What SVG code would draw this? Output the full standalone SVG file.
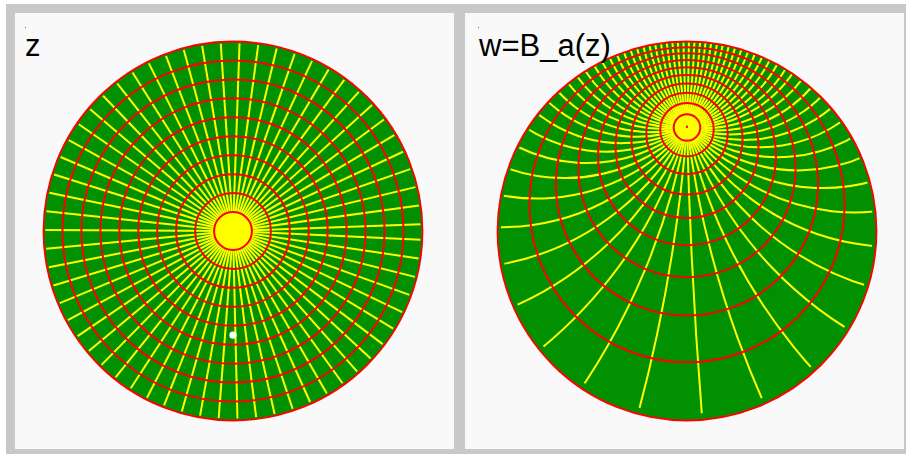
<svg xmlns="http://www.w3.org/2000/svg" width="906" height="454" viewBox="0 0 906 454">
<style>
.panel{fill:#f9f9f9}
.disk{fill:#009000}
.ray{stroke:#ffff00;stroke-width:2;fill:none}
.ring{stroke:#ff0000;stroke-width:2;fill:none}
.lbl{font-family:"Liberation Sans",Arial,sans-serif;font-size:31px;fill:#000}
</style>
<defs>
<clipPath id="clipR"><circle cx="687" cy="228.05" r="186"/></clipPath>
<line id="ray" x1="0" y1="0" x2="187.6" y2="0"/>
</defs>
<rect width="906" height="454" fill="#ffffff"/>
<rect x="6" y="4" width="900" height="450" fill="#c8c8c8"/>
<rect x="15" y="13" width="439" height="436" class="panel"/>
<rect x="465" y="13" width="439" height="436" class="panel"/>
<rect x="25" y="27" width="1" height="1" fill="#009000"/>
<rect x="478" y="27" width="1" height="1" fill="#009000"/>

<g id="left-disk">
<circle cx="233" cy="231" r="189.5" class="disk"/>
<g class="ray" transform="translate(233 231)">
<use href="#ray" transform="rotate(-2.063)"/><use href="#ray" transform="rotate(-7.792)"/><use href="#ray" transform="rotate(-13.522)"/><use href="#ray" transform="rotate(-19.252)"/><use href="#ray" transform="rotate(-24.981)"/><use href="#ray" transform="rotate(-30.711)"/><use href="#ray" transform="rotate(-36.440)"/><use href="#ray" transform="rotate(-42.170)"/><use href="#ray" transform="rotate(-47.899)"/><use href="#ray" transform="rotate(-53.629)"/>
<use href="#ray" transform="rotate(-59.359)"/><use href="#ray" transform="rotate(-65.088)"/><use href="#ray" transform="rotate(-70.818)"/><use href="#ray" transform="rotate(-76.547)"/><use href="#ray" transform="rotate(-82.277)"/><use href="#ray" transform="rotate(-88.006)"/><use href="#ray" transform="rotate(-93.736)"/><use href="#ray" transform="rotate(-99.466)"/><use href="#ray" transform="rotate(-105.195)"/><use href="#ray" transform="rotate(-110.925)"/>
<use href="#ray" transform="rotate(-116.654)"/><use href="#ray" transform="rotate(-122.384)"/><use href="#ray" transform="rotate(-128.113)"/><use href="#ray" transform="rotate(-133.843)"/><use href="#ray" transform="rotate(-139.573)"/><use href="#ray" transform="rotate(-145.302)"/><use href="#ray" transform="rotate(-151.032)"/><use href="#ray" transform="rotate(-156.761)"/><use href="#ray" transform="rotate(-162.491)"/><use href="#ray" transform="rotate(-168.220)"/>
<use href="#ray" transform="rotate(-173.950)"/><use href="#ray" transform="rotate(-179.680)"/><use href="#ray" transform="rotate(-185.409)"/><use href="#ray" transform="rotate(-191.139)"/><use href="#ray" transform="rotate(-196.868)"/><use href="#ray" transform="rotate(-202.598)"/><use href="#ray" transform="rotate(-208.327)"/><use href="#ray" transform="rotate(-214.057)"/><use href="#ray" transform="rotate(-219.787)"/><use href="#ray" transform="rotate(-225.516)"/>
<use href="#ray" transform="rotate(-231.246)"/><use href="#ray" transform="rotate(-236.975)"/><use href="#ray" transform="rotate(-242.705)"/><use href="#ray" transform="rotate(-248.434)"/><use href="#ray" transform="rotate(-254.164)"/><use href="#ray" transform="rotate(-259.894)"/><use href="#ray" transform="rotate(-265.623)"/><use href="#ray" transform="rotate(-271.353)"/><use href="#ray" transform="rotate(-277.082)"/><use href="#ray" transform="rotate(-282.812)"/>
<use href="#ray" transform="rotate(-288.541)"/><use href="#ray" transform="rotate(-294.271)"/><use href="#ray" transform="rotate(-300.001)"/><use href="#ray" transform="rotate(-305.730)"/><use href="#ray" transform="rotate(-311.460)"/><use href="#ray" transform="rotate(-317.189)"/><use href="#ray" transform="rotate(-322.919)"/><use href="#ray" transform="rotate(-328.648)"/><use href="#ray" transform="rotate(-334.378)"/><use href="#ray" transform="rotate(-340.108)"/>
<use href="#ray" transform="rotate(-345.837)"/><use href="#ray" transform="rotate(-351.567)"/><use href="#ray" transform="rotate(-357.296)"/>
<circle r="18" fill="#ffff00" stroke="none"/>
</g>
<g class="ring">
<circle cx="233" cy="231" r="18.95"/><circle cx="233" cy="231" r="37.9"/><circle cx="233" cy="231" r="56.85"/><circle cx="233" cy="231" r="75.8"/><circle cx="233" cy="231" r="94.75"/><circle cx="233" cy="231" r="113.7"/><circle cx="233" cy="231" r="132.65"/><circle cx="233" cy="231" r="151.6"/><circle cx="233" cy="231" r="170.55"/><circle cx="233" cy="231" r="189.5" stroke-width="1.8"/>
</g>
<circle cx="233" cy="335.2" r="3.6" fill="#ffffff"/>
</g>

<g id="right-disk">
<circle cx="687" cy="231" r="189.5" class="disk"/>
<g class="ray" clip-path="url(#clipR)">
<path d="M687 126.78A120.24 120.24 0 0 0 687 -113.55"/>
<path d="M687 126.78A121.28 121.28 0 0 0 687 -113.55"/>
<path d="M687 126.78A123.59 123.59 0 0 0 687 -113.55"/>
<path d="M687 126.78A127.28 127.28 0 0 0 687 -113.55"/>
<path d="M687 126.78A132.56 132.56 0 0 0 687 -113.55"/>
<path d="M687 126.78A139.76 139.76 0 0 0 687 -113.55"/>
<path d="M687 126.78A149.36 149.36 0 0 0 687 -113.55"/>
<path d="M687 126.78A162.13 162.13 0 0 0 687 -113.55"/>
<path d="M687 126.78A179.23 179.23 0 0 0 687 -113.55"/>
<path d="M687 126.78A202.63 202.63 0 0 0 687 -113.55"/>
<path d="M687 126.78A235.77 235.77 0 0 0 687 -113.55"/>
<path d="M687 126.78A285.26 285.26 0 0 0 687 -113.55"/>
<path d="M687 126.78A365.71 365.71 0 0 0 687 -113.55"/>
<path d="M687 126.78A516.48 516.48 0 0 0 687 -113.55"/>
<path d="M687 126.78A894.18 894.18 0 0 0 687 -113.55"/>
<path d="M687 126.78A3453.9 3453.9 0 0 0 687 -113.55"/>
<path d="M687 126.78A1844.1 1844.1 0 0 1 687 -113.55"/>
<path d="M687 126.78A730.63 730.63 0 0 1 687 -113.55"/>
<path d="M687 126.78A458.45 458.45 0 0 1 687 -113.55"/>
<path d="M687 126.78A336.44 336.44 0 0 1 687 -113.55"/>
<path d="M687 126.78A267.85 267.85 0 0 1 687 -113.55"/>
<path d="M687 126.78A224.35 224.35 0 0 1 687 -113.55"/>
<path d="M687 126.78A194.68 194.68 0 0 1 687 -113.55"/>
<path d="M687 126.78A173.47 173.47 0 0 1 687 -113.55"/>
<path d="M687 126.78A157.85 157.85 0 0 1 687 -113.55"/>
<path d="M687 126.78A146.15 146.15 0 0 1 687 -113.55"/>
<path d="M687 126.78A137.34 137.34 0 0 1 687 -113.55"/>
<path d="M687 126.78A130.77 130.77 0 0 1 687 -113.55"/>
<path d="M687 126.78A126.00 126.00 0 0 1 687 -113.55"/>
<path d="M687 126.78A122.74 122.74 0 0 1 687 -113.55"/>
<path d="M687 126.78A120.83 120.83 0 0 1 687 -113.55"/>
<path d="M687 126.78A120.16 120.16 0 0 1 687 -113.55"/>
<path d="M687 126.78A120.70 120.70 0 1 1 687 -113.55"/>
<path d="M687 126.78A122.47 122.47 0 1 1 687 -113.55"/>
<path d="M687 126.78A125.56 125.56 0 1 1 687 -113.55"/>
<path d="M687 126.78A130.15 130.15 0 1 1 687 -113.55"/>
<path d="M687 126.78A136.51 136.51 0 1 1 687 -113.55"/>
<path d="M687 126.78A145.04 145.04 0 1 1 687 -113.55"/>
<path d="M687 126.78A156.37 156.37 0 1 1 687 -113.55"/>
<path d="M687 126.78A171.48 171.48 0 1 1 687 -113.55"/>
<path d="M687 126.78A191.95 191.95 0 1 1 687 -113.55"/>
<path d="M687 126.78A220.47 220.47 0 1 1 687 -113.55"/>
<path d="M687 126.78A262.03 262.03 0 1 1 687 -113.55"/>
<path d="M687 126.78A326.90 326.90 0 1 1 687 -113.55"/>
<path d="M687 126.78A440.32 440.32 0 1 1 687 -113.55"/>
<path d="M687 126.78A684.79 684.79 0 1 1 687 -113.55"/>
<path d="M687 126.78A1574.4 1574.4 0 1 1 687 -113.55"/>
<path d="M687 126.78A5088.5 5088.5 0 1 0 687 -113.55"/>
<path d="M687 126.78A974.61 974.61 0 1 0 687 -113.55"/>
<path d="M687 126.78A541.87 541.87 0 1 0 687 -113.55"/>
<path d="M687 126.78A377.89 377.89 0 1 0 687 -113.55"/>
<path d="M687 126.78A292.33 292.33 0 1 0 687 -113.55"/>
<path d="M687 126.78A240.31 240.31 0 1 0 687 -113.55"/>
<path d="M687 126.78A205.77 205.77 0 1 0 687 -113.55"/>
<path d="M687 126.78A181.48 181.48 0 1 0 687 -113.55"/>
<path d="M687 126.78A163.79 163.79 0 1 0 687 -113.55"/>
<path d="M687 126.78A150.62 150.62 0 1 0 687 -113.55"/>
<path d="M687 126.78A140.71 140.71 0 1 0 687 -113.55"/>
<path d="M687 126.78A133.26 133.26 0 1 0 687 -113.55"/>
<path d="M687 126.78A127.78 127.78 0 1 0 687 -113.55"/>
<path d="M687 126.78A123.93 123.93 0 1 0 687 -113.55"/>
<path d="M687 126.78A121.47 121.47 0 1 0 687 -113.55"/>
<path d="M687 126.78A120.29 120.29 0 1 0 687 -113.55"/>
</g>
<g class="ring">
<circle cx="687" cy="127.50" r="13.26"/><circle cx="687" cy="129.72" r="26.76"/><circle cx="687" cy="133.50" r="40.76"/><circle cx="687" cy="139.00" r="55.56"/><circle cx="687" cy="146.44" r="71.49"/><circle cx="687" cy="156.14" r="89.00"/><circle cx="687" cy="168.60" r="108.62"/><circle cx="687" cy="184.47" r="131.13"/><circle cx="687" cy="204.77" r="157.57"/><circle cx="687" cy="231" r="189.5" stroke-width="1.8"/>
</g>
<circle cx="687" cy="126.8" r="1.2" fill="#ff0000"/>
</g>

<g id="labels">
<text class="lbl" x="25" y="56">z</text>
<text class="lbl" x="479" y="56">w=B_a(z)</text>
</g>
</svg>
